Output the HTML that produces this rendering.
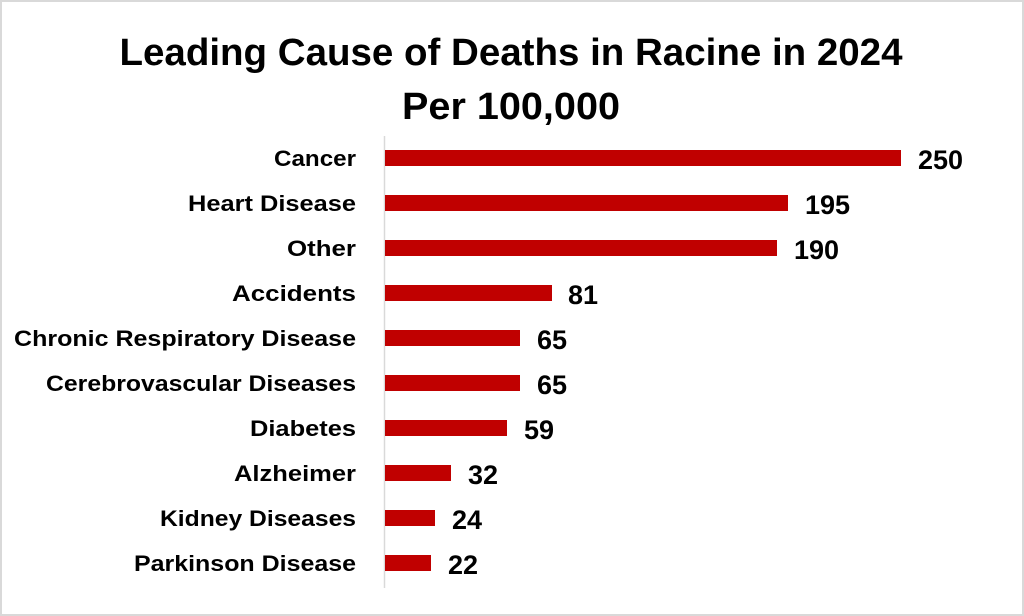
<!DOCTYPE html>
<html><head><style>
html,body{margin:0;padding:0;background:#fff}
svg{display:block}
text{font-family:"Liberation Sans",sans-serif;font-weight:bold;fill:#000}
</style></head><body>
<svg width="1024" height="616" viewBox="0 0 1024 616">
<rect x="1" y="1" width="1022" height="614" fill="#fff" stroke="#d9d9d9" stroke-width="2"/>
<text x="511" y="65" text-anchor="middle" font-size="38" textLength="783" lengthAdjust="spacingAndGlyphs">Leading Cause of Deaths in Racine in 2024</text>
<text x="511" y="119" text-anchor="middle" font-size="38" textLength="218" lengthAdjust="spacingAndGlyphs">Per 100,000</text>
<line x1="384.5" y1="136" x2="384.5" y2="588" stroke="#d9d9d9" stroke-width="1.5"/>
<g fill="#c00000">
<rect x="385" y="150" width="516" height="16"/>
<rect x="385" y="195" width="403" height="16"/>
<rect x="385" y="240" width="392" height="16"/>
<rect x="385" y="285" width="167" height="16"/>
<rect x="385" y="330" width="135" height="16"/>
<rect x="385" y="375" width="135" height="16"/>
<rect x="385" y="420" width="122" height="16"/>
<rect x="385" y="465" width="66" height="16"/>
<rect x="385" y="510" width="50" height="16"/>
<rect x="385" y="555" width="46" height="16"/>
</g>
<g font-size="22" text-anchor="end">
<text x="356" y="166" textLength="82" lengthAdjust="spacingAndGlyphs">Cancer</text>
<text x="356" y="211" textLength="168" lengthAdjust="spacingAndGlyphs">Heart Disease</text>
<text x="356" y="256" textLength="69" lengthAdjust="spacingAndGlyphs">Other</text>
<text x="356" y="301" textLength="124" lengthAdjust="spacingAndGlyphs">Accidents </text>
<text x="356" y="346" textLength="342" lengthAdjust="spacingAndGlyphs">Chronic Respiratory Disease</text>
<text x="356" y="391" textLength="310" lengthAdjust="spacingAndGlyphs">Cerebrovascular Diseases</text>
<text x="356" y="436" textLength="106" lengthAdjust="spacingAndGlyphs">Diabetes</text>
<text x="356" y="481" textLength="122" lengthAdjust="spacingAndGlyphs">Alzheimer</text>
<text x="356" y="526" textLength="196" lengthAdjust="spacingAndGlyphs">Kidney Diseases</text>
<text x="356" y="571" textLength="222" lengthAdjust="spacingAndGlyphs">Parkinson Disease</text>
</g>
<g font-size="27">
<text x="918" y="169">250</text>
<text x="805" y="214">195</text>
<text x="794" y="259">190</text>
<text x="568" y="304">81</text>
<text x="537" y="349">65</text>
<text x="537" y="394">65</text>
<text x="524" y="439">59</text>
<text x="468" y="484">32</text>
<text x="452" y="529">24</text>
<text x="448" y="574">22</text>
</g>
</svg>
</body></html>
